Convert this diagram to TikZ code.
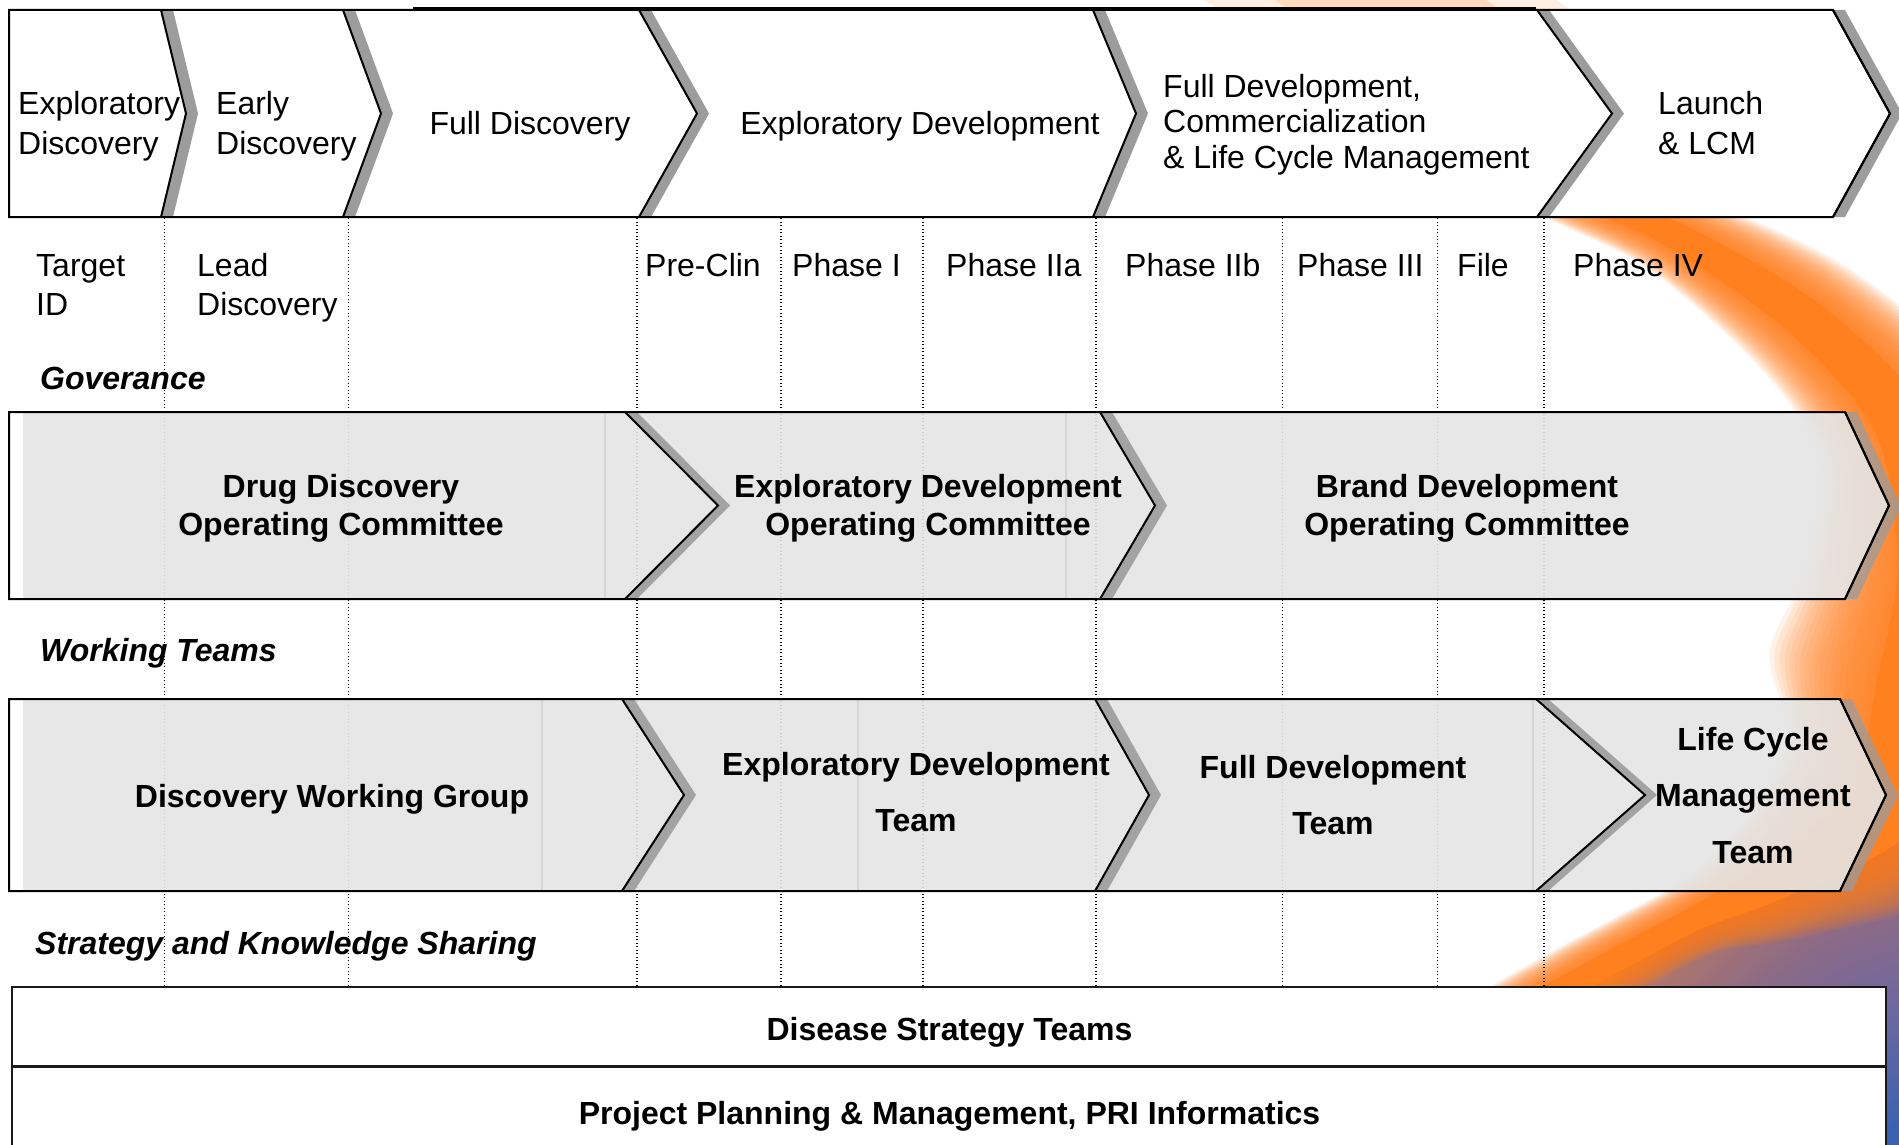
\documentclass[tikz,border=0pt]{standalone}
\usepackage{fontspec}
\setmainfont{Liberation Sans}
\definecolor{bandgray}{HTML}{E5E5E5}
\definecolor{shadowgray}{HTML}{9C9C9C}
\definecolor{faintline}{HTML}{D6D6D6}
\definecolor{swOrange}{RGB}{255,128,30}
\definecolor{swBlue}{HTML}{3A62B0}
\definecolor{swViolet}{HTML}{6E68A0}
\definecolor{swPurple}{HTML}{8A6A88}
\definecolor{swMauve}{HTML}{A87470}
\definecolor{swBrown}{HTML}{C4806A}
\definecolor{swRust}{HTML}{E07A40}
\pgfdeclareradialshading{swrad}{\pgfpoint{0bp}{0bp}}{color(0bp)=(swBlue); color(4bp)=(swBlue); color(8.5bp)=(swViolet); color(12bp)=(swPurple); color(15bp)=(swMauve); color(18bp)=(swBrown); color(22bp)=(swRust); color(50bp)=(swRust)}
\newcommand\mylines[2][l]{\begin{tabular}[t]{@{}#1@{}}#2\end{tabular}}
\newcommand\chevstrip[5]{%
  \fill[shadowgray, fill opacity=#5] (#1,#3) -- (#2,{(#3+#4)/2}) -- (#1,#4) -- ({#1+12},#4) -- ({#2+12},{(#3+#4)/2}) -- ({#1+12},#3) -- cycle;
  \draw[rowline] (#1,#3) -- (#2,{(#3+#4)/2}) -- (#1,#4);}
\tikzset{
  rowline/.style={draw=black, line width=2pt, line join=miter},
  phasegrid/.style={draw=black, line width=1.3pt, dash pattern=on 1.3pt off 2.2pt},
  toptext/.style={font=\fontsize{32}{40}\selectfont, inner sep=0pt},
  phasetext/.style={font=\fontsize{32}{39}\selectfont, inner sep=0pt, anchor=base west},
  headtext/.style={font=\fontsize{32}{39}\selectfont\bfseries\itshape, inner sep=0pt, anchor=base west},
  bandtext/.style={font=\fontsize{32}{38}\selectfont\bfseries, inner sep=0pt, anchor=base},
  bandtextwide/.style={font=\fontsize{32}{56.5}\selectfont\bfseries, inner sep=0pt, anchor=base},
  boxtext/.style={font=\fontsize{32}{38}\selectfont\bfseries, inner sep=0pt, anchor=base},
}
\begin{document}
\begin{tikzpicture}[x=1pt,y=-1pt]
\useasboundingbox (0,0) rectangle (1899,1145);
\clip (0,0) rectangle (1899,1145);
\fill[white] (0,0) rectangle (1899,1145);

% ---- decorative swoosh: outer purple-blue area ----
\begin{scope}
  \clip (1960,540) -- (1940,560) -- (1925,690) -- (1880,810) -- (1775,880) -- (1700,916) -- (1635,950) -- (1570,985) -- (1495,1030) -- (1435,1100) -- (1420,1200) -- (1960,1200) -- cycle;
  \shade[shading=swrad] (1960,1200) circle (600);
\end{scope}
% faint tail at the top
\draw[swOrange, line width=200pt, opacity=0.12] (1250,-90) -- (1540,110);
\draw[swOrange, line width=120pt, opacity=0.18] (1250,-90) -- (1540,110);
% orange band with soft edges
\foreach \i in {0,...,21} {
  \pgfmathsetmacro\s{1-0.033*\i}
  \pgfmathsetmacro\op{ifthenelse(\i==21,1,0.1)}
  \fill[swOrange, opacity=\op] plot[smooth cycle, tension=0.5] coordinates {
    ({1520+8.9*\s},{175-23.4*\s})
    ({1660+16.2*\s},{228-37.6*\s})
    ({1800+41.3*\s},{315-51.5*\s})
    ({1900+80.5*\s},{420-40.2*\s})
    ({1940+137.4*\s},{560-12.7*\s})
    ({1925+155.5*\s},{690+37.3*\s})
    ({1880+94.2*\s},{810+74.4*\s})
    ({1775+33.0*\s},{880+56.0*\s})
    ({1700+16.5*\s},{916+36.4*\s})
    ({1635+16.9*\s},{950+34.0*\s})
    ({1570+18.8*\s},{985+33.0*\s})
    ({1495+24.7*\s},{1030+28.9*\s})
    ({1435+28.8*\s},{1100+24.7*\s})
    ({1435-28.8*\s},{1100-24.7*\s})
    ({1495-24.7*\s},{1030-28.9*\s})
    ({1570-18.8*\s},{985-33.0*\s})
    ({1635-16.9*\s},{950-34.0*\s})
    ({1700-16.5*\s},{916-36.4*\s})
    ({1775-33.0*\s},{880-56.0*\s})
    ({1880-94.2*\s},{810-74.4*\s})
    ({1925-155.5*\s},{690-37.3*\s})
    ({1940-137.4*\s},{560+12.7*\s})
    ({1900-80.5*\s},{420+40.2*\s})
    ({1800-41.3*\s},{315+51.5*\s})
    ({1660-16.2*\s},{228+37.6*\s})
    ({1520-8.9*\s},{175+23.4*\s})
  };
}

% ---- phase grid lines ----
\foreach \x in {164.7,348.8,637,781,923,1096,1282.5,1437.6,1544}
  \draw[phasegrid] (\x,218) -- (\x,986);

% ---- governance band ----
\fill[bandgray, fill opacity=0.9] (23,412) -- (1845,412) -- (1889,505.5) -- (1845,599) -- (23,599) -- cycle;
\draw[faintline, line width=1.2pt] (605,413) -- (605,598);
\draw[faintline, line width=1.2pt] (1066,413) -- (1066,598);
\chevstrip{625}{718}{412}{599}{0.9}
\chevstrip{1100}{1155}{412}{599}{0.9}
\chevstrip{1845}{1889}{412}{599}{0.75}
\draw[rowline] (9,412) -- (1845,412) -- (1889,505.5) -- (1845,599) -- (9,599) -- cycle;

% ---- working teams band ----
\fill[bandgray, fill opacity=0.9] (23,699) -- (1840,699) -- (1886,795) -- (1840,891) -- (23,891) -- cycle;
\draw[faintline, line width=1.2pt] (542,700) -- (542,890);
\draw[faintline, line width=1.2pt] (858,700) -- (858,890);
\draw[faintline, line width=1.2pt] (1533,700) -- (1533,890);
\chevstrip{622}{684}{699}{891}{0.9}
\chevstrip{1095}{1149}{699}{891}{0.9}
\chevstrip{1536}{1645}{699}{891}{0.9}
\chevstrip{1840}{1886}{699}{891}{0.75}
\draw[rowline] (9,699) -- (1840,699) -- (1886,795) -- (1840,891) -- (9,891) -- cycle;

% ---- top process row ----
\fill[white] (9,10) -- (1833,10) -- (1890,113.5) -- (1833,217) -- (9,217) -- cycle;
\chevstrip{161}{186}{10}{217}{1}
\chevstrip{343}{381}{10}{217}{1}
\chevstrip{639}{697}{10}{217}{1}
\chevstrip{1093}{1136}{10}{217}{1}
\chevstrip{1537}{1612}{10}{217}{1}
\chevstrip{1833}{1890}{10}{217}{1}
\draw[rowline] (9,10) -- (1833,10) -- (1890,113.5) -- (1833,217) -- (9,217) -- cycle;
\draw[black, line width=2pt] (413,8) -- (1536,8);

% ---- bottom boxes ----
\draw[fill=white, draw=black!90, line width=2.6pt] (12,987) rectangle (1886,1175);
\draw[black!90, line width=2.6pt] (12,1066.5) -- (1886,1066.5);

% ---- top row texts ----
\node[toptext, anchor=base west] (t-expdisc) at (18,115) {\mylines{Exploratory\\Discovery}};
\node[toptext, anchor=base west] (t-earlydisc) at (216,115) {\mylines{Early\\Discovery}};
\node[toptext, anchor=base] (t-fulldisc) at (530,135) {Full Discovery};
\node[toptext, anchor=base] (t-expdev) at (920,135) {Exploratory Development};
\node[toptext, anchor=base west, font=\fontsize{32}{35.5}\selectfont] (t-fullcomm) at (1163,97.5) {\mylines{Full Development,\\Commercialization\\\& Life Cycle Management}};
\node[toptext, anchor=base west] (t-launch) at (1658,115) {\mylines{Launch\\\& LCM}};

% ---- phase texts ----
\node[phasetext] (p-target) at (36,276) {\mylines{Target\\ID}};
\node[phasetext] (p-lead) at (197,276) {\mylines{Lead\\Discovery}};
\node[phasetext] (p-preclin) at (645,276) {Pre-Clin};
\node[phasetext] (p-ph1) at (792,276) {Phase I};
\node[phasetext] (p-ph2a) at (946,276) {Phase IIa};
\node[phasetext] (p-ph2b) at (1125,276) {Phase IIb};
\node[phasetext] (p-ph3) at (1297,276) {Phase III};
\node[phasetext] (p-file) at (1457,276) {File};
\node[phasetext] (p-ph4) at (1573,276) {Phase IV};

% ---- section headings ----
\node[headtext] (h-gov) at (40,389) {Goverance};
\node[headtext] (h-work) at (40,661) {Working Teams};
\node[headtext] (h-strat) at (35,954) {Strategy and Knowledge Sharing};

% ---- governance labels ----
\node[bandtext] (b-ddoc) at (341,497) {\mylines[c]{Drug Discovery\\Operating Committee}};
\node[bandtext] (b-edoc) at (928,497) {\mylines[c]{Exploratory Development\\Operating Committee}};
\node[bandtext] (b-bdoc) at (1467,497) {\mylines[c]{Brand Development\\Operating Committee}};

% ---- working team labels ----
\node[bandtext] (b-dwg) at (332,807) {Discovery Working Group};
\node[bandtextwide] (b-edt) at (916,775) {\mylines[c]{Exploratory Development\\Team}};
\node[bandtextwide] (b-fdt) at (1333,778) {\mylines[c]{Full Development\\Team}};
\node[bandtextwide] (b-lcm) at (1753,750) {\mylines[c]{Life Cycle\\Management\\Team}};

% ---- bottom box labels ----
\node[boxtext] (x-dst) at (949.5,1040) {Disease Strategy Teams};
\node[boxtext] (x-ppm) at (949.5,1124) {Project Planning \& Management, PRI Informatics};
\end{tikzpicture}
\end{document}
